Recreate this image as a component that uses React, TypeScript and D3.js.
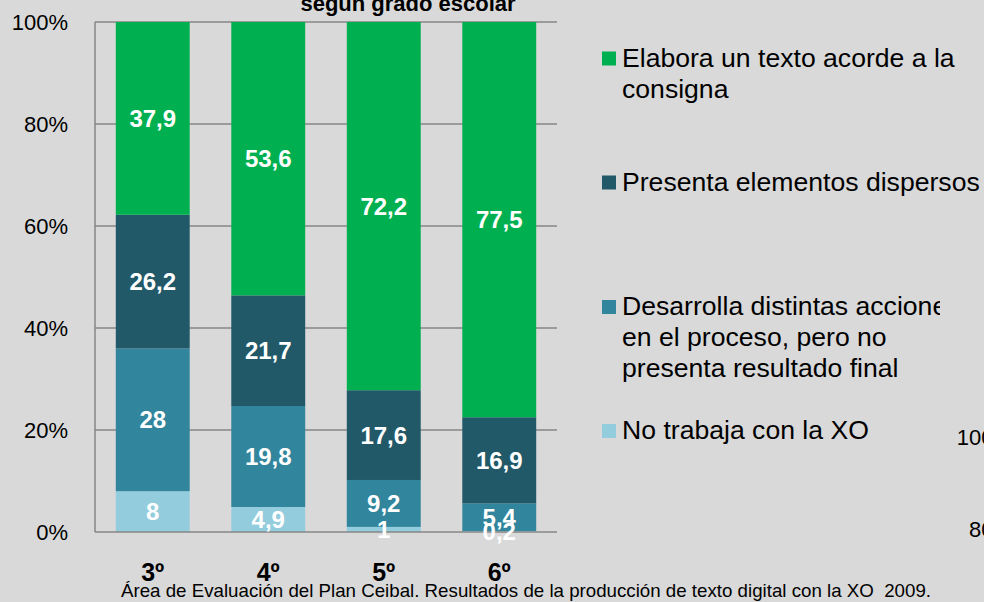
import React from "react";
import * as d3 from "d3";

const categories = ["3º", "4º", "5º", "6º"];
const noTrabaja = [8, 4.9, 1, 0.2];
const desarrolla = [28, 19.8, 9.2, 5.4];
const presenta = [26.2, 21.7, 17.6, 16.9];
const elabora = [37.9, 53.6, 72.2, 77.5];
const yTicks = [0, 20, 40, 60, 80, 100];

const seriesKeys = ["noTrabaja", "desarrolla", "presenta", "elabora"];
const seriesColors: Record<string, string> = {
  noTrabaja: "#93cddd",
  desarrolla: "#31859c",
  presenta: "#215968",
  elabora: "#00b050",
};

const legendItems = [
  { key: "elabora", lines: ["Elabora un texto acorde a la", "consigna"], top: 66.5 },
  { key: "presenta", lines: ["Presenta elementos dispersos"], top: 190.5 },
  {
    key: "desarrolla",
    lines: ["Desarrolla distintas acciones", "en el proceso, pero no", "presenta resultado final"],
    top: 315,
  },
  { key: "noTrabaja", lines: ["No trabaja con la XO"], top: 439 },
];

const W = 984;
const H = 602;
const FONT = "Arial, 'Liberation Sans', Helvetica, sans-serif";

export default function App() {
  const table = categories.map((c, i) => ({
    cat: c,
    noTrabaja: noTrabaja[i],
    desarrolla: desarrolla[i],
    presenta: presenta[i],
    elabora: elabora[i],
  }));
  const stacked = d3.stack<any>().keys(seriesKeys)(table);

  const x = d3.scaleBand<string>().domain(categories).range([95, 557]).paddingInner(0.36).paddingOuter(0.18);
  const y = d3.scaleLinear().domain([0, 100]).range([532, 22]);
  const fmt = (v: number) => String(v).replace(".", ",");

  return (
    <svg width={W} height={H} style={{ position: "absolute", left: 0, top: 0, display: "block" }} fontFamily={FONT}>
      <defs>
        <clipPath id="plotClip">
          <rect x={90} y={y(100)} width={480} height={y(0) - y(100)} />
        </clipPath>
        <clipPath id="legClip">
          <rect x={0} y={0} width={940} height={H} />
        </clipPath>
      </defs>
      <rect x={0} y={0} width={W} height={H} fill="#d9d9d9" />

      {/* title (cut off at top) */}
      <text x={408} y={11} textAnchor="middle" fontSize={22} fontWeight="bold" fill="#000">
        según grado escolar
      </text>

      {/* gridlines */}
      {yTicks.filter((t) => t > 0).map((t) => (
        <line key={t} x1={95} x2={557} y1={y(t)} y2={y(t)} stroke="#868686" strokeWidth={1.5} />
      ))}

      {/* bars */}
      <g clipPath="url(#plotClip)">
        {stacked.map((s) =>
          s.map((d, i) => (
            <rect
              key={s.key + i}
              x={x(categories[i])}
              width={x.bandwidth()}
              y={y(d[1])}
              height={y(d[0]) - y(d[1])}
              fill={seriesColors[s.key]}
            />
          ))
        )}
      </g>

      {/* axes */}
      <line x1={95} x2={95} y1={y(100)} y2={y(0)} stroke="#868686" strokeWidth={1.5} />
      <line x1={95} x2={557} y1={y(0)} y2={y(0)} stroke="#868686" strokeWidth={1.5} />

      {yTicks.map((t) => (
        <text key={t} x={68} y={y(t)} dy="0.35em" textAnchor="end" fontSize={22} fill="#000">
          {t}%
        </text>
      ))}

      {/* value labels */}
      {stacked.map((s) =>
        s.map((d, i) => (
          <text
            key={"l" + s.key + i}
            x={(x(categories[i]) as number) + x.bandwidth() / 2}
            y={(y(d[0]) + y(Math.min(d[1], 100))) / 2}
            dy="0.36em"
            textAnchor="middle"
            fontSize={24}
            fontWeight="bold"
            fill="#fff"
          >
            {fmt(+(d.data as any)[s.key])}
          </text>
        ))
      )}

      {/* category labels */}
      {categories.map((c) => (
        <text
          key={c}
          x={(x(c) as number) + x.bandwidth() / 2}
          y={581}
          textAnchor="middle"
          fontSize={25}
          fontWeight="bold"
          fill="#000"
        >
          {c}
        </text>
      ))}

      {/* legend */}
      {legendItems.map((it) => (
        <g key={it.key}>
          <rect x={602} y={it.top - 15} width={14} height={14} fill={seriesColors[it.key]} />
          {it.lines.map((ln, j) => (
            <text
              key={j}
              x={622}
              y={it.top + j * 31}
              fontSize={26.6}
              fill="#000"
              clipPath={it.key === "desarrolla" && j === 0 ? "url(#legClip)" : undefined}
            >
              {ln}
            </text>
          ))}
        </g>
      ))}

      {/* stray labels from adjacent chart */}
      <text x={1013} y={445} textAnchor="end" fontSize={22} fill="#000">100%</text>
      <text x={1013} y={537} textAnchor="end" fontSize={22} fill="#000">80%</text>

      {/* footer */}
      <text x={121} y={597} fontSize={18.5} textLength={810} lengthAdjust="spacingAndGlyphs" style={{ whiteSpace: "pre" }} fill="#000">
        {"Área de Evaluación del Plan Ceibal. Resultados de la producción de texto digital con la XO  2009."}
      </text>
    </svg>
  );
}
